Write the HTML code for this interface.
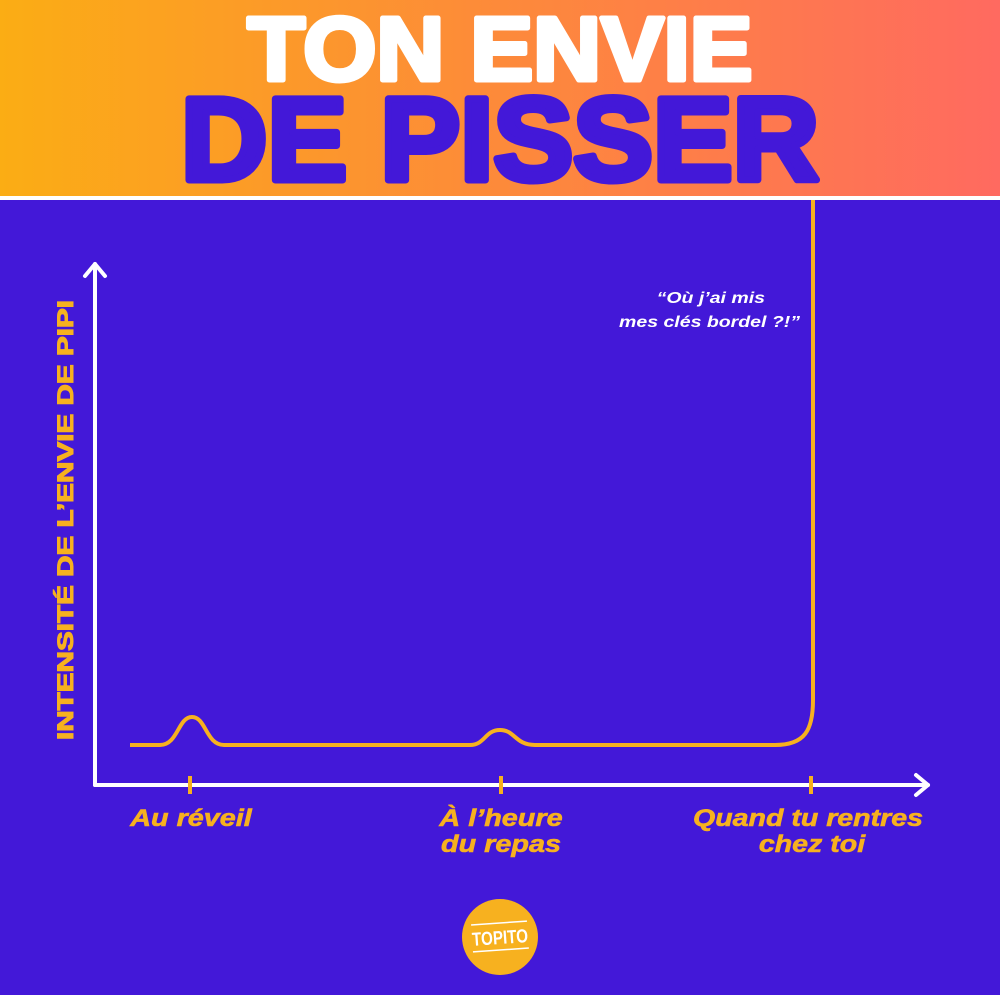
<!DOCTYPE html>
<html><head><meta charset="utf-8"><style>
html,body{margin:0;padding:0;width:1000px;height:995px;overflow:hidden;background:#4318d8}
svg{display:block}
text{font-family:"Liberation Sans",sans-serif}
</style></head><body>
<svg width="1000" height="995" viewBox="0 0 1000 995" xmlns="http://www.w3.org/2000/svg">
<defs>
<linearGradient id="g" x1="0" y1="0" x2="1" y2="0">
<stop offset="0" stop-color="#fbad14"/><stop offset="0.5" stop-color="#fd8a3a"/><stop offset="1" stop-color="#ff6a60"/>
</linearGradient>
</defs>
<rect x="0" y="0" width="1000" height="196" fill="url(#g)"/>
<rect x="0" y="196" width="1000" height="4" fill="#ffffff"/>
<rect x="0" y="200" width="1000" height="795" fill="#4318d8"/>
<text x="500" y="80" text-anchor="middle" font-size="90" font-weight="bold" fill="#fff" stroke="#fff" stroke-width="5" stroke-linejoin="round" textLength="505" lengthAdjust="spacingAndGlyphs">TON ENVIE</text>
<text x="500" y="180" text-anchor="middle" font-size="118" font-weight="bold" fill="#4318d8" stroke="#4318d8" stroke-width="7" stroke-linejoin="round" textLength="638" lengthAdjust="spacingAndGlyphs">DE PISSER</text>
<path d="M130 745 L160 745 C178 745 178 717 192 717 C206 717 206 745 224 745 L470 745 C485 745 485 730 500 730 C515 730 515 745 535 745 L775 745 C805 745 813 730 813 700 L813 200" fill="none" stroke="#f7b11f" stroke-width="4"/>
<g stroke="#fff" stroke-width="4" fill="none" stroke-linecap="round" stroke-linejoin="round">
<path d="M95 785 L95 264"/><path d="M85 276 L95 264 L105 276"/>
<path d="M95 785 L928 785"/><path d="M916 775 L928 785 L916 795"/>
</g>
<g stroke="#f7b11f" stroke-width="4">
<line x1="190" y1="776" x2="190" y2="794"/><line x1="501" y1="776" x2="501" y2="794"/><line x1="811" y1="776" x2="811" y2="794"/>
</g>
<g font-size="24" font-weight="bold" font-style="italic" fill="#f7b11f" stroke="#f7b11f" stroke-width="0.6" text-anchor="middle">
<text transform="translate(191,826) scale(1.2,1)">Au réveil</text>
<text transform="translate(501,826) scale(1.2,1)">À l’heure</text>
<text transform="translate(501,852) scale(1.2,1)">du repas</text>
<text transform="translate(808,826) scale(1.19,1)">Quand tu rentres</text>
<text transform="translate(812,852) scale(1.19,1)">chez toi</text>
</g>
<text transform="translate(73,520) rotate(-90)" text-anchor="middle" font-size="22" font-weight="bold" fill="#f7b11f" stroke="#f7b11f" stroke-width="1" textLength="440" lengthAdjust="spacingAndGlyphs">INTENSITÉ DE L’ENVIE DE PIPI</text>
<g font-size="16" font-weight="bold" font-style="italic" fill="#fff" text-anchor="end">
<text transform="translate(765,303) scale(1.22,1)">“Où j’ai mis</text>
<text transform="translate(800,327) scale(1.22,1)">mes clés bordel ?!”</text>
</g>
<circle cx="500" cy="937" r="38" fill="#f7b11f"/>
<g transform="rotate(-4 500 937)">
<line x1="472" y1="923" x2="528" y2="923" stroke="#fff" stroke-width="1.5"/>
<line x1="472" y1="950" x2="528" y2="950" stroke="#fff" stroke-width="1.5"/>
<text x="500" y="944" text-anchor="middle" font-size="19" font-weight="bold" fill="#fff" textLength="56" lengthAdjust="spacingAndGlyphs">TOPITO</text>
</g>
</svg>
</body></html>
